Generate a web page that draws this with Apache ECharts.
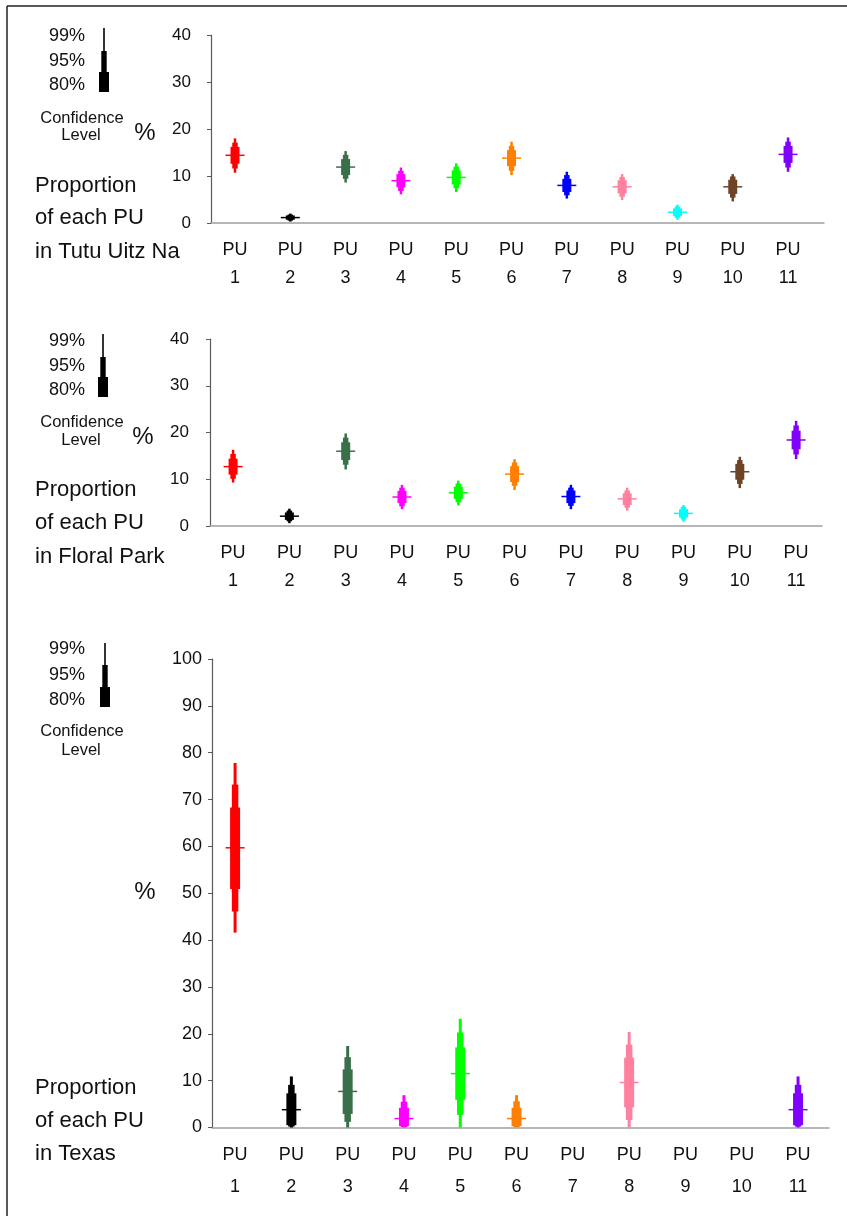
<!DOCTYPE html>
<html>
<head>
<meta charset="utf-8">
<script src="https://cdn.jsdelivr.net/npm/echarts@6/dist/echarts.min.js"></script>
<style>
  html, body { margin: 0; padding: 0; background: #fff; }
  #chart { width: 847px; height: 1216px; }
</style>
</head>
<body>
<div id="chart"></div>
<script>
// ---------- data ----------
const categories = ['1', '2', '3', '4', '5', '6', '7', '8', '9', '10', '11'];
const puColors = ['#FF0000', '#000000', '#3A7049', '#FF00FF', '#00FF00', '#FF8000',
                  '#0000FF', '#FF809F', '#00FFFF', '#6E4427', '#8000FF'];

// Tutu Uitz Na
const tutuEst  = [14.4, 1.15, 11.9, 9.0, 9.7, 13.8, 8.0, 7.7, 2.3, 7.7, 14.6];
const tutuLo99 = [10.7, 0.3, 8.6, 6.1, 6.6, 10.2, 5.2, 4.9, 0.7, 4.6, 10.9];
const tutuHi99 = [18.0, 2.0, 15.3, 11.8, 12.7, 17.3, 10.9, 10.4, 3.9, 10.4, 18.2];
const tutuLo95 = [11.6, 0.5, 9.4, 6.8, 7.4, 11.1, 5.9, 5.6, 1.1, 5.4, 11.8];
const tutuHi95 = [17.1, 1.8, 14.5, 11.1, 12.0, 16.4, 10.2, 9.8, 3.5, 9.9, 17.3];
const tutuLo80 = [12.6, 0.7, 10.2, 7.6, 8.2, 12.1, 6.6, 6.3, 1.5, 6.2, 12.8];
const tutuHi80 = [16.2, 1.6, 13.6, 10.4, 11.2, 15.5, 9.4, 9.1, 3.1, 9.2, 16.4];

// Floral Park
const floralEst  = [12.7, 2.1, 16.0, 6.2, 7.1, 11.1, 6.3, 5.8, 2.7, 11.6, 18.4];
const floralLo99 = [9.3, 0.6, 12.1, 3.6, 4.4, 7.7, 3.6, 3.3, 0.9, 8.1, 14.3];
const floralHi99 = [16.3, 3.7, 19.8, 8.8, 9.7, 14.3, 8.8, 8.2, 4.5, 14.8, 22.5];
const floralLo95 = [10.1, 1.0, 13.1, 4.2, 5.1, 8.6, 4.3, 3.9, 1.4, 9.0, 15.3];
const floralHi95 = [15.4, 3.3, 18.9, 8.2, 9.1, 13.6, 8.2, 7.6, 4.1, 14.1, 21.5];
const floralLo80 = [11.0, 1.3, 14.1, 4.9, 5.8, 9.4, 4.9, 4.5, 1.8, 9.9, 16.4];
const floralHi80 = [14.4, 2.9, 17.9, 7.5, 8.4, 12.8, 7.6, 7.0, 3.6, 13.3, 20.4];

// Texas
const texasEst  = [59.7, 3.8, 7.7, 1.9, 11.5, 1.9, null, 9.6, null, null, 3.8];
const texasLo99 = [41.6, 0, 0, 0, 0, 0, null, 0, null, null, 0];
const texasHi99 = [77.8, 10.9, 17.4, 6.9, 23.2, 6.9, null, 20.4, null, null, 10.9];
const texasLo95 = [46.1, 0.2, 1.2, 0.1, 2.7, 0.1, null, 1.6, null, null, 0.2];
const texasHi95 = [73.2, 9.1, 15.0, 5.5, 20.3, 5.6, null, 17.7, null, null, 9.1];
const texasLo80 = [50.9, 0.5, 2.9, 0.3, 5.9, 0.3, null, 4.3, null, null, 0.5];
const texasHi80 = [68.3, 7.3, 12.4, 4.2, 17.1, 4.2, null, 14.9, null, null, 7.3];

const yTicksSmall = [0, 10, 20, 30, 40];
const yTicksLarge = [0, 10, 20, 30, 40, 50, 60, 70, 80, 90, 100];

// ---------- helpers ----------
const FONT = '"Liberation Sans", Arial, sans-serif';

function buildData(est, lo99, hi99, lo95, hi95, lo80, hi80) {
  const out = [];
  categories.forEach((c, i) => {
    if (est[i] == null) return;
    out.push({
      value: [i + 1, lo99[i], hi99[i], lo95[i], hi95[i], lo80[i], hi80[i], est[i]],
      itemStyle: { color: puColors[i] }
    });
  });
  return out;
}

function makeRender(w99, w95, w80, tw) {
  return function (params, api) {
    const x = api.value(0);
    const c = api.visual('color');
    const px = api.coord([x, 0])[0];
    const Y = v => api.coord([x, v])[1];
    const bar = (w, a, b) => ({
      type: 'rect',
      shape: { x: px - w / 2, y: Y(b), width: w, height: Y(a) - Y(b) },
      style: { fill: c }
    });
    const ey = Y(api.value(7));
    return {
      type: 'group',
      children: [
        bar(w99, api.value(1), api.value(2)),
        bar(w95, api.value(3), api.value(4)),
        bar(w80, api.value(5), api.value(6)),
        { type: 'rect', shape: { x: px - tw / 2, y: ey - 0.75, width: tw, height: 1.5 }, style: { fill: c } }
      ]
    };
  };
}

function xAxisCfg(idx, min, max, lineH, margin) {
  return {
    gridIndex: idx, type: 'value', min: min, max: max,
    axisLine: { show: true, onZero: false, lineStyle: { color: '#9E9E9E', width: 1.5 } },
    axisTick: { show: false },
    splitLine: { show: false },
    axisLabel: {
      customValues: categories.map((c, i) => i + 1),
      formatter: v => 'PU\n' + categories[Math.round(v) - 1],
      fontFamily: FONT, fontSize: 18, color: '#111', lineHeight: lineH, margin: margin
    }
  };
}

function yAxisCfg(idx, ticks, fontSize, margin) {
  return {
    gridIndex: idx, type: 'value', min: ticks[0], max: ticks[ticks.length - 1], interval: 10,
    axisLine: { show: true, lineStyle: { color: '#5A5A5A', width: 1.2 } },
    axisTick: { show: true, length: 4, lineStyle: { color: '#5A5A5A' } },
    splitLine: { show: false },
    axisLabel: { fontFamily: FONT, fontSize: fontSize, color: '#111', margin: margin }
  };
}

function txt(x, y, s, size, align) {
  return {
    type: 'text', x: x, y: y, silent: true,
    style: { text: s, fontFamily: FONT, fontSize: size, fill: '#111',
             textAlign: align || 'left', textVerticalAlign: 'middle' }
  };
}

function legendGlyph(cx, y0, y1, y2, y3) {
  return [
    { type: 'rect', shape: { x: cx - 0.8, y: y0, width: 1.6, height: y1 - y0 }, style: { fill: '#000' } },
    { type: 'rect', shape: { x: cx - 2.7, y: y1, width: 5.4, height: y2 - y1 }, style: { fill: '#000' } },
    { type: 'rect', shape: { x: cx - 5, y: y2, width: 10, height: y3 - y2 }, style: { fill: '#000' } }
  ];
}

function panelTexts(o) {
  return [
    txt(85, o.p99, '99%', 18, 'right'),
    txt(85, o.p95, '95%', 18, 'right'),
    txt(85, o.p80, '80%', 18, 'right'),
    txt(82, o.conf, 'Confidence', 16.5, 'center'),
    txt(81, o.level, 'Level', 16.5, 'center'),
    txt(o.pctX, o.pctY, '%', 24, 'center'),
    txt(35, o.l1, 'Proportion', 22),
    txt(35, o.l2, 'of each PU', 22),
    txt(35, o.l3, o.name, 22)
  ];
}

// ---------- chart ----------
const chart = echarts.init(document.getElementById('chart'), null, { renderer: 'canvas' });

const graphics = [
  { type: 'line', shape: { x1: 7, y1: 6, x2: 847, y2: 6 }, style: { stroke: '#222', lineWidth: 1.5 } },
  { type: 'line', shape: { x1: 7, y1: 6, x2: 7, y2: 1216 }, style: { stroke: '#222', lineWidth: 1.5 } }
]
  .concat(legendGlyph(104, 28, 51, 72, 92))
  .concat(legendGlyph(103, 334, 357, 377, 397))
  .concat(legendGlyph(105, 643, 665, 687, 707))
  .concat(panelTexts({ p99: 36, p95: 61, p80: 85.5, conf: 118, level: 135, pctX: 145, pctY: 133,
                       l1: 186, l2: 218, l3: 252, name: 'in Tutu Uitz Na' }))
  .concat(panelTexts({ p99: 341, p95: 366, p80: 390, conf: 422.5, level: 440, pctX: 143, pctY: 437,
                       l1: 490, l2: 523, l3: 557, name: 'in Floral Park' }))
  .concat(panelTexts({ p99: 649, p95: 675, p80: 700, conf: 731.5, level: 750, pctX: 145, pctY: 892,
                       l1: 1088, l2: 1121, l3: 1154, name: 'in Texas' }));

const option = {
  backgroundColor: '#ffffff',
  animation: false,
  grid: [
    { left: 211, top: 35, width: 613, height: 188 },
    { left: 210, top: 339, width: 612, height: 187 },
    { left: 212, top: 659, width: 617, height: 468.5 }
  ],
  xAxis: [
    xAxisCfg(0, 0.566, 11.65, 28, 13),
    xAxisCfg(1, 0.59, 11.46, 28, 13.5),
    xAxisCfg(2, 0.59, 11.55, 32, 11.5)
  ],
  yAxis: [
    yAxisCfg(0, yTicksSmall, 17, 20),
    yAxisCfg(1, yTicksSmall, 17, 21),
    yAxisCfg(2, yTicksLarge, 18, 10)
  ],
  series: [
    {
      type: 'custom', xAxisIndex: 0, yAxisIndex: 0,
      renderItem: makeRender(2.5, 5.5, 9, 19),
      encode: { x: 0, y: [1, 2, 7] },
      data: buildData(tutuEst, tutuLo99, tutuHi99, tutuLo95, tutuHi95, tutuLo80, tutuHi80)
    },
    {
      type: 'custom', xAxisIndex: 1, yAxisIndex: 1,
      renderItem: makeRender(2.5, 5.5, 9, 19),
      encode: { x: 0, y: [1, 2, 7] },
      data: buildData(floralEst, floralLo99, floralHi99, floralLo95, floralHi95, floralLo80, floralHi80)
    },
    {
      type: 'custom', xAxisIndex: 2, yAxisIndex: 2,
      renderItem: makeRender(3, 6.5, 10, 19),
      encode: { x: 0, y: [1, 2, 7] },
      data: buildData(texasEst, texasLo99, texasHi99, texasLo95, texasHi95, texasLo80, texasHi80)
    }
  ],
  graphic: { elements: graphics }
};

chart.setOption(option);
</script>
</body>
</html>
